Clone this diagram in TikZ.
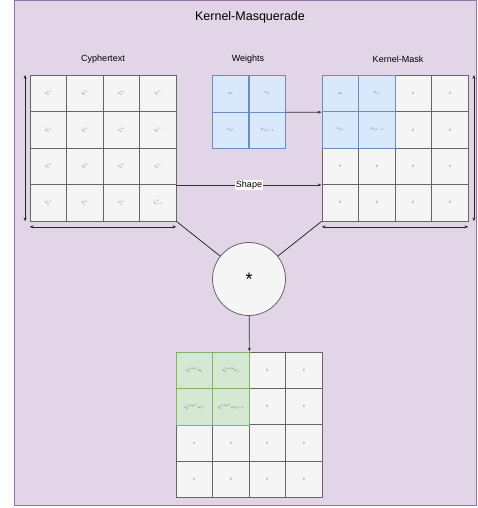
\documentclass[tikz,border=0pt]{standalone}
\usepackage{fontspec}
\setsansfont{Liberation Sans}
\usetikzlibrary{arrows.meta,calc}
\definecolor{bgfill}{HTML}{E1D5E7}
\definecolor{bgdraw}{HTML}{9673A6}
\definecolor{cellfill}{HTML}{F5F5F5}
\definecolor{celldraw}{HTML}{666666}
\definecolor{bluefill}{HTML}{DAE8FC}
\definecolor{bluedraw}{HTML}{6C8EBF}
\definecolor{greenfill}{HTML}{D5E8D4}
\definecolor{greendraw}{HTML}{82B366}
\newcommand{\smtxt}[1]{\scalebox{0.5}{#1}}
\begin{document}
\begin{tikzpicture}[x=1pt,y=-1pt,
 cell/.style={draw=celldraw,fill=cellfill,line width=0.8pt,minimum size=36.5pt,inner sep=0pt,font=\scriptsize,text=black!75},
 bcell/.style={cell,draw=bluedraw,fill=bluefill},
 gcell/.style={cell,draw=greendraw,fill=greenfill},
 lbl/.style={font=\sffamily\fontsize{9}{10}\selectfont},
 arr/.style={-{Stealth[length=4pt,width=3pt]},line width=0.7pt,draw=black!80},
 dbl/.style={{Stealth[length=4pt,width=3pt]}-{Stealth[length=4pt,width=3pt]},line width=0.7pt,draw=black!85},
 conn/.style={line width=0.7pt,draw=black!90}]
\useasboundingbox (0,0) rectangle (477,508);
\draw[draw=bgdraw,fill=bgfill,line width=0.8pt] (14,0.5) rectangle (476.5,505);
\node[font=\sffamily\fontsize{12.5}{14}\selectfont] (title) at (250,17) {Kernel-Masquerade};
\node[lbl] (lct) at (103,59) {Cyphertext};
\node[lbl] (lw) at (248,59) {Weights};
\node[lbl] (lkm) at (398,59) {Kernel-Mask};
% cyphertext grid
\foreach \r in {0,...,3} \foreach \c in {0,...,3}
  \node[cell] (ct-\r-\c) at ({48.25+36.5*\c},{93.5+36.4*\r}) {\smtxt{\ifnum\r\c=33 $x_{n-1}^{(i)}$\else $x_0^{(i)}$\fi}};
% weights grid
\node[bcell] (w-0-0) at (230.5,93.7) {\smtxt{$w_0$}};
\node[bcell] (w-0-1) at (267.2,93.7) {\smtxt{$w_{f}$}};
\node[bcell] (w-1-0) at (230.5,130.2) {\smtxt{$w_{f'}$}};
\node[bcell] (w-1-1) at (267.2,130.2) {\smtxt{$w_{ff'-1}$}};
% kernel mask grid
\foreach \r/\c in {0/2,0/3,1/2,1/3,2/0,2/1,2/2,2/3,3/0,3/1,3/2,3/3}
  \node[cell] (km-\r-\c) at ({340.25+36.5*\c},{93.5+36.4*\r}) {\smtxt{$0$}};
\node[bcell] (km-0-0) at (340.25,93.5) {\smtxt{$w_0$}};
\node[bcell] (km-0-1) at (376.75,93.5) {\smtxt{$w_{f}$}};
\node[bcell] (km-1-0) at (340.25,129.9) {\smtxt{$w_{f'}$}};
\node[bcell] (km-1-1) at (376.75,129.9) {\smtxt{$w_{ff'-1}$}};
% result grid
\foreach \r/\c in {0/2,0/3,1/2,1/3,2/0,2/1,2/2,2/3,3/0,3/1,3/2,3/3}
  \node[cell] (res-\r-\c) at ({194.25+36.5*\c},{370.25+36.4*\r}) {\smtxt{$0$}};
\node[gcell] (res-0-0) at (194.25,370.25) {\smtxt{$x_0^{(i)\ll k}w_0$}};
\node[gcell] (res-0-1) at (230.75,370.25) {\smtxt{$x_0^{(i)\ll k}w_{f}$}};
\node[gcell] (res-1-0) at (194.25,406.65) {\smtxt{$x_0^{(i)\ll k'}w_{f'}$}};
\node[gcell] (res-1-1) at (230.75,406.65) {\smtxt{$x_0^{(i)\ll k'}w_{ff'-1}$}};
% convolution
\node[circle,draw=celldraw,fill=cellfill,line width=0.8pt,minimum size=73pt,inner sep=0pt,font=\sffamily\fontsize{18}{18}\selectfont] (conv) at (249,279) {\raisebox{-3pt}{*}};
% connectors
\draw[arr] (w-0-1.south east) -- (km-0-0.south west);
\draw[arr] (ct-2-3.south east) -- node[fill=white,inner sep=1pt,lbl] (shape) {Shape} (km-2-0.south west);
\draw[conn] (ct-3-3.south east) -- (conv);
\draw[conn] (km-3-0.south west) -- (conv);
\draw[arr] (conv) -- (res-0-1.north east);
% dimension arrows
\draw[dbl] ($(ct-0-0.north west)+(-4.5,0)$) -- ($(ct-3-0.south west)+(-4.5,0)$);
\draw[dbl] ($(ct-3-0.south west)+(0,5.5)$) -- ($(ct-3-3.south east)+(0,5.5)$);
\draw[dbl] ($(km-0-3.north east)+(5.5,0)$) -- ($(km-3-3.south east)+(5.5,0)$);
\draw[dbl] ($(km-3-0.south west)+(0,5.5)$) -- ($(km-3-3.south east)+(0,5.5)$);
\end{tikzpicture}
\end{document}
